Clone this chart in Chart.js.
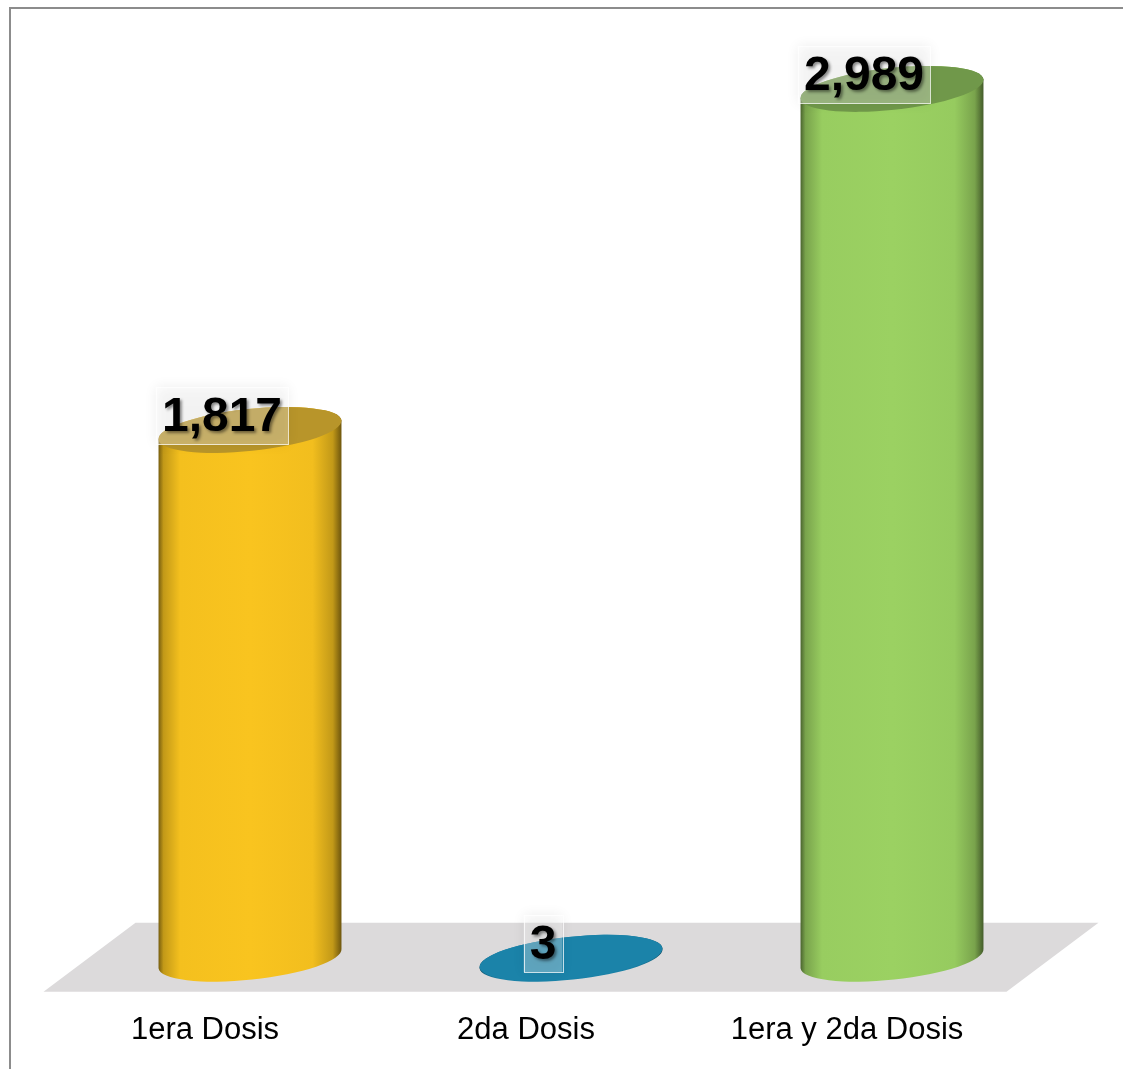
<!DOCTYPE html>
<html>
<head>
<meta charset="utf-8">
<script src="https://cdn.jsdelivr.net/npm/chart.js@4/dist/chart.umd.min.js"></script>
<style>
  html, body { margin: 0; padding: 0; background: #fff; }
  #wrap { position: relative; width: 1123px; height: 1069px; overflow: hidden; }
  #frame { position: absolute; left: 9px; top: 7px; width: 1200px; height: 1200px;
           border-top: 2px solid #8c8c8c; border-left: 2px solid #8c8c8c; box-sizing: border-box; }
  canvas { position: absolute; left: 0; top: 0; }
</style>
</head>
<body>
<div id="wrap">
  <div id="frame"></div>
  <canvas id="dosisChart" width="1123" height="1069"></canvas>
</div>
<script>
// data
const categories = ["1era Dosis", "2da Dosis", "1era y 2da Dosis"];
const values = [1817, 3, 2989];
const barColors = ["#F9C41F", "#1B83A9", "#9BD162"];
const topColors = ["#B8952A", "#1B83A9", "#70984A"];

function shade(hex, f) {
    const n = parseInt(hex.slice(1), 16);
    const r = Math.round(((n >> 16) & 255) * f);
    const g = Math.round(((n >> 8) & 255) * f);
    const b = Math.round((n & 255) * f);
    return "rgb(" + r + "," + g + "," + b + ")";
}

const TILT = -6 * Math.PI / 180;
const RY = 21;

// floor + cylinders + value boxes
const cylinderPlugin = {
    id: "cylinders",
    beforeDatasetsDraw(chart) {
        const ctx = chart.ctx;
        const area = chart.chartArea;
        const base = chart.scales.y.getPixelForValue(0);
        const skew = 46;
        ctx.save();
        ctx.fillStyle = "#DCDADB";
        ctx.beginPath();
        ctx.moveTo(area.left + skew, base - 36);
        ctx.lineTo(area.right + skew, base - 36);
        ctx.lineTo(area.right - skew, base + 33);
        ctx.lineTo(area.left - skew, base + 33);
        ctx.closePath();
        ctx.fill();
        ctx.restore();
    },
    afterDatasetsDraw(chart) {
        const ctx = chart.ctx;
        const meta = chart.getDatasetMeta(0);
        meta.data.forEach(function(bar, i) {
            const cx = bar.x;
            const rx = bar.width / 2;
            const yTop = bar.y;
            const yBot = bar.base;
            const col = barColors[i];

            ctx.save();
            // body
            const grad = ctx.createLinearGradient(cx - rx, 0, cx + rx, 0);
            grad.addColorStop(0, shade(col, 0.45));
            grad.addColorStop(0.03, shade(col, 0.78));
            grad.addColorStop(0.12, shade(col, 0.98));
            grad.addColorStop(0.5, col);
            grad.addColorStop(0.84, shade(col, 0.97));
            grad.addColorStop(0.95, shade(col, 0.78));
            grad.addColorStop(1, shade(col, 0.42));
            ctx.fillStyle = grad;
            ctx.beginPath();
            ctx.ellipse(cx, yBot, rx, RY, TILT, 0, Math.PI);
            ctx.lineTo(cx - rx * Math.cos(TILT), yTop - rx * Math.sin(TILT));
            ctx.ellipse(cx, yTop, rx, RY, TILT, Math.PI, 2 * Math.PI);
            ctx.closePath();
            ctx.fill();

            // top face
            ctx.fillStyle = topColors[i];
            ctx.beginPath();
            ctx.ellipse(cx, yTop, rx, RY, TILT, 0, 2 * Math.PI);
            ctx.fill();
            ctx.restore();
        });

        // value labels
        meta.data.forEach(function(bar, i) {
            const txt = values[i].toLocaleString("en-US");
            ctx.save();
            ctx.font = "bold 48px 'Liberation Sans', Arial, sans-serif";
            const w = ctx.measureText(txt).width + 12;
            const h = 57;
            const lx = bar.x - 28;
            const ly = bar.y - 14;
            ctx.shadowColor = "rgba(0,0,0,0.25)";
            ctx.shadowBlur = 12;
            ctx.fillStyle = "rgba(255,255,255,0.3)";
            ctx.fillRect(lx - w / 2, ly - h / 2, w, h);
            ctx.shadowColor = "transparent";
            ctx.strokeStyle = "rgba(255,255,255,0.75)";
            ctx.lineWidth = 1;
            ctx.strokeRect(Math.round(lx - w / 2) + 0.5, Math.round(ly - h / 2) + 0.5, Math.round(w), h);
            ctx.shadowColor = "rgba(0,0,0,0.45)";
            ctx.shadowBlur = 3;
            ctx.shadowOffsetX = 2;
            ctx.shadowOffsetY = 2;
            ctx.fillStyle = "#000";
            ctx.textAlign = "center";
            ctx.textBaseline = "middle";
            ctx.fillText(txt, lx, ly + 2);
            ctx.restore();
        });
    }
};

const ctx = document.getElementById("dosisChart").getContext("2d");
new Chart(ctx, {
    type: "bar",
    data: {
        labels: categories,
        datasets: [{
            data: values,
            backgroundColor: "rgba(0,0,0,0)",
            barPercentage: 0.573,
            categoryPercentage: 1
        }]
    },
    options: {
        responsive: false,
        animation: false,
        layout: {
            padding: { left: 89.5, right: 70.5, top: 27.5, bottom: 20.4 }
        },
        plugins: {
            legend: { display: false },
            tooltip: { enabled: false }
        },
        scales: {
            x: {
                grid: { display: false, drawTicks: false },
                border: { display: false },
                afterFit(scale) { scale.height = 89.9; },
                ticks: {
                    color: "#000",
                    padding: 52.7,
                    labelOffset: -45,
                    font: { family: "'Liberation Sans', Arial, sans-serif", size: 31 }
                }
            },
            y: {
                display: false,
                min: 0,
                max: 3200
            }
        }
    },
    plugins: [cylinderPlugin]
});
</script>
</body>
</html>
